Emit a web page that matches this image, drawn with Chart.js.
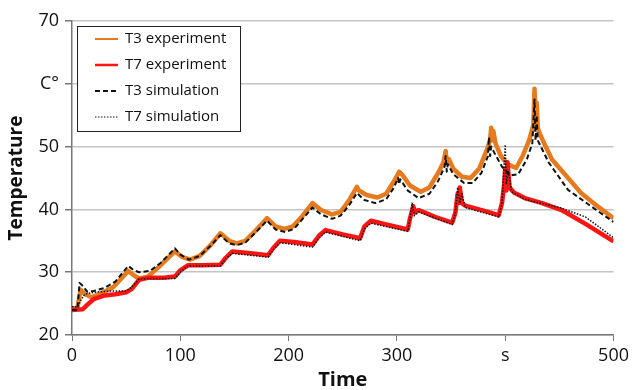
<!DOCTYPE html>
<html>
<head>
<meta charset="utf-8">
<script src="https://cdn.jsdelivr.net/npm/chart.js@4.4.1/dist/chart.umd.min.js"></script>
<style>
  html, body { margin: 0; padding: 0; background: #fff; }
  #wrap { width: 633px; height: 390px; }
</style>
</head>
<body>
<div id="wrap"><canvas id="tempChart" width="633" height="390"></canvas></div>
<script>
// Temperatures, in seconds / degrees C
const t3ExpTime = [0, 5, 8, 12, 18, 25, 38, 52, 58, 62, 70, 80, 95, 102, 109, 118, 128, 137, 145, 152, 160, 170, 180, 188, 196, 204, 213, 222, 230, 240, 248, 256, 263, 265, 272, 282, 290, 297, 302, 305, 312, 322, 330, 338, 343, 345, 346, 348, 352, 360, 368, 376, 383, 386, 387, 388, 389, 391, 396, 402, 410, 416, 422, 426, 427, 428, 429, 430, 432, 436, 443, 458, 470, 486, 500];
const t3ExpTemp = [24.2, 24.3, 27.2, 26.5, 26.0, 26.5, 27.6, 30.2, 29.4, 29.0, 29.3, 30.8, 33.3, 32.4, 32.0, 32.6, 34.3, 36.2, 35.0, 34.6, 35.0, 36.7, 38.6, 37.3, 36.9, 37.3, 39.0, 41.0, 39.9, 39.2, 39.6, 41.5, 43.6, 43.0, 42.3, 41.9, 42.5, 44.4, 46.0, 45.5, 43.8, 42.8, 43.5, 45.8, 47.5, 49.3, 47.5, 48.0, 46.5, 45.2, 45.0, 46.5, 49.5, 51.0, 53.0, 51.0, 52.5, 50.5, 48.5, 47.2, 46.6, 48.5, 51.0, 53.5, 59.2, 55.0, 57.0, 53.0, 52.0, 50.5, 48.0, 45.0, 42.6, 40.4, 38.6];

const t7ExpTime = [0, 10, 14, 20, 30, 40, 50, 55, 62, 70, 85, 95, 100, 107, 120, 137, 142, 148, 165, 181, 186, 192, 205, 222, 228, 234, 250, 266, 270, 276, 290, 310, 312, 315, 317, 320, 335, 351, 354, 356, 357, 358, 360, 363, 380, 394, 397, 399, 400, 401, 402, 404, 408, 418, 434, 452, 474, 500];
const t7ExpTemp = [24.0, 24.1, 24.8, 25.7, 26.3, 26.5, 26.8, 27.3, 28.8, 29.1, 29.1, 29.3, 30.3, 31.1, 31.1, 31.2, 32.3, 33.3, 33.0, 32.7, 33.9, 35.0, 34.8, 34.4, 35.8, 36.7, 36.0, 35.4, 37.3, 38.2, 37.6, 36.8, 38.5, 40.5, 39.5, 39.9, 38.8, 37.9, 39.5, 42.5, 41.0, 43.5, 41.0, 40.6, 39.8, 39.1, 41.0, 44.0, 46.5, 43.0, 47.5, 43.5, 42.7, 41.8, 41.0, 39.9, 37.7, 34.9];

const t3SimTime = [0, 5, 7, 10, 14, 20, 30, 40, 52, 57, 62, 72, 82, 95, 100, 108, 118, 128, 137, 145, 152, 160, 170, 180, 188, 197, 205, 213, 222, 230, 240, 248, 256, 263, 270, 280, 290, 297, 301, 302, 303, 310, 320, 330, 338, 344, 345, 346, 347, 352, 362, 370, 378, 384, 385, 386, 387, 390, 397, 405, 412, 420, 425, 427, 428, 429, 430, 432, 440, 458, 480, 500];
const t3SimTemp = [24.0, 24.0, 28.3, 27.8, 26.9, 27.0, 27.5, 28.5, 31.0, 30.3, 30.0, 30.2, 31.5, 33.8, 32.8, 32.0, 32.6, 34.2, 35.9, 34.6, 34.3, 34.7, 36.4, 38.2, 36.8, 36.4, 36.9, 38.5, 40.3, 39.2, 38.5, 39.0, 40.7, 42.6, 41.5, 41.0, 41.6, 43.4, 45.0, 44.0, 44.8, 43.0, 41.8, 42.5, 44.5, 46.8, 48.5, 46.0, 47.2, 45.6, 44.2, 44.2, 45.8, 48.5, 51.5, 48.5, 50.0, 49.0, 46.8, 45.4, 45.6, 48.0, 50.5, 57.5, 51.0, 55.0, 51.0, 50.3, 47.5, 43.1, 40.4, 38.0];

const t7SimTime = [0, 5, 8, 12, 20, 35, 50, 55, 62, 70, 95, 100, 107, 137, 142, 148, 181, 186, 192, 222, 228, 234, 266, 270, 276, 310, 312, 314, 316, 320, 351, 354, 356, 358, 360, 363, 394, 397, 400, 401, 403, 406, 418, 440, 452, 474, 500];
const t7SimTemp = [24.5, 24.5, 25.5, 26.5, 26.8, 27.0, 27.0, 27.6, 28.9, 29.0, 29.0, 30.0, 31.0, 31.0, 32.2, 33.0, 32.4, 33.6, 34.7, 34.0, 35.4, 36.4, 35.0, 36.9, 37.8, 36.5, 38.5, 41.0, 39.0, 39.6, 37.6, 39.5, 43.5, 41.0, 42.5, 40.3, 38.8, 41.0, 50.3, 44.0, 46.0, 42.8, 41.6, 40.7, 40.2, 38.8, 35.5];

const yTickLabels = { 20: '20', 30: '30', 40: '40', 50: '50', 60: 'C\u00b0', 70: '70' };
const xTickLabels = { 0: '0', 100: '100', 200: '200', 300: '300', 400: 's', 500: '500' };

function points(times, temps) {
    return times.map(function(t, i) { return { x: t, y: temps[i] }; });
}

// legend box drawn inside the plot, top left
const boxLegend = {
    id: 'boxLegend',
    afterDraw: function(chart) {
        const ctx = chart.ctx;
        const items = chart.data.datasets.slice().sort(function(a, b) { return a.legendIndex - b.legendIndex; });
        const left = 77, top = 26, w = 163, h = 105;
        ctx.save();
        ctx.fillStyle = '#fff';
        ctx.fillRect(left, top, w, h);
        ctx.strokeStyle = '#222';
        ctx.lineWidth = 1;
        ctx.strokeRect(left + 0.5, top + 0.5, w, h);
        ctx.font = '15px "Open Sans"';
        ctx.textBaseline = 'middle';
        items.forEach(function(ds, i) {
            const y = top + 13 + i * 26;
            ctx.beginPath();
            ctx.strokeStyle = ds.borderColor;
            ctx.lineWidth = ds.legendWidth;
            ctx.setLineDash(ds.borderDash || []);
            ctx.moveTo(95, y);
            ctx.lineTo(118, y);
            ctx.stroke();
            ctx.setLineDash([]);
            ctx.fillStyle = '#111';
            ctx.fillText(ds.label, 125, y);
        });
        ctx.restore();
    }
};

const ctx = document.getElementById('tempChart').getContext('2d');
const tempChart = new Chart(ctx, {
    type: 'line',
    data: {
        datasets: [{
            label: 'T3 experiment',
            data: points(t3ExpTime, t3ExpTemp),
            borderColor: '#e67a1f',
            borderWidth: 4.5,
            legendWidth: 2,
            legendIndex: 0,
            order: 4
        }, {
            label: 'T7 experiment',
            data: points(t7ExpTime, t7ExpTemp),
            borderColor: '#ff1414',
            borderWidth: 4.5,
            legendWidth: 2.5,
            legendIndex: 1,
            order: 3
        }, {
            label: 'T3 simulation',
            data: points(t3SimTime, t3SimTemp),
            borderColor: '#111',
            borderWidth: 2,
            borderDash: [5, 3],
            legendWidth: 2,
            legendIndex: 2,
            order: 2
        }, {
            label: 'T7 simulation',
            data: points(t7SimTime, t7SimTemp),
            borderColor: '#111',
            borderWidth: 1.5,
            borderDash: [1.5, 1.5],
            legendWidth: 1,
            legendIndex: 3,
            order: 1
        }]
    },
    options: {
        responsive: false,
        animation: false,
        layout: { autoPadding: false, padding: { top: 21, right: 16, left: 0, bottom: 0 } },
        elements: { point: { radius: 0 }, line: { tension: 0, borderJoinStyle: 'round' } },
        scales: {
            x: {
                type: 'linear',
                min: 0,
                max: 500,
                afterFit: function(scale) { scale.height = 55; },
                ticks: {
                    stepSize: 100,
                    color: '#111',
                    padding: 4,
                    font: { family: 'Open Sans', size: 18 },
                    callback: function(v) { return xTickLabels[v]; }
                },
                grid: { drawOnChartArea: false, color: '#777', tickLength: 6, lineWidth: 1 },
                border: { color: '#777', width: 1.5 },
                title: {
                    display: true,
                    text: 'Time',
                    color: '#111',
                    padding: { top: 0, bottom: -2 },
                    font: { family: 'Open Sans', size: 20, weight: 'bold' }
                }
            },
            y: {
                min: 20,
                max: 70,
                afterFit: function(scale) { scale.width = 72; },
                ticks: {
                    stepSize: 10,
                    color: '#111',
                    padding: 6,
                    font: { family: 'Open Sans', size: 18 },
                    callback: function(v) { return yTickLabels[v]; }
                },
                grid: { color: '#c4c4c4', lineWidth: 1.5, tickColor: '#777', tickLength: 7 },
                border: { color: '#777', width: 1.5 },
                title: {
                    display: true,
                    text: 'Temperature',
                    color: '#111',
                    padding: { top: 5, bottom: 0 },
                    font: { family: 'Open Sans', size: 19, weight: 'bold' }
                }
            }
        },
        plugins: {
            legend: { display: false },
            tooltip: { enabled: false }
        }
    },
    plugins: [boxLegend]
});
</script>
</body>
</html>
